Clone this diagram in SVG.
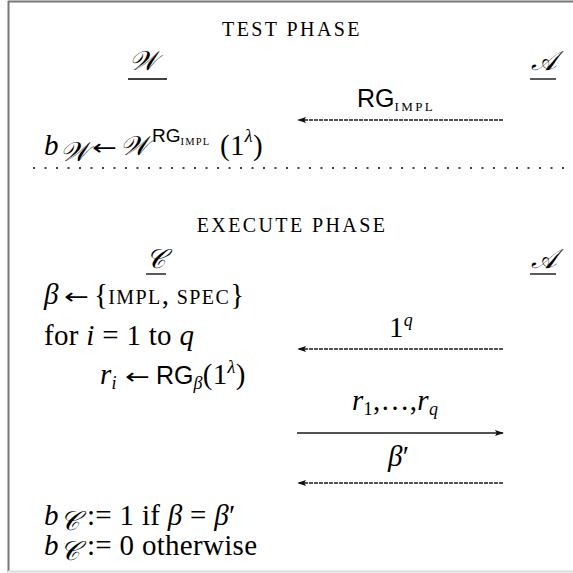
<svg xmlns="http://www.w3.org/2000/svg" width="573" height="573" viewBox="0 0 573 573">
<style>
.t{font-family:"Liberation Serif",serif;font-size:29px;letter-spacing:0.3px;fill:#000}
.i{font-style:italic}
.sc{font-family:"Liberation Serif",serif;font-size:20px;letter-spacing:2.4px;fill:#000}
.sf{font-family:"Liberation Sans",sans-serif;letter-spacing:0}
.ar{font-family:"DejaVu Sans",sans-serif;font-size:22px;fill:#000}
.cal{font-family:"DejaVu Serif","Noto Sans",serif;font-style:italic;font-size:27px;letter-spacing:0}
.ul{stroke:#000;stroke-width:1.3}
.dash{stroke:#1a1a1a;stroke-width:1.5;stroke-dasharray:4 1;fill:none}
.solid{stroke:#1a1a1a;stroke-width:1.4;fill:none}
</style>
<defs>
<marker id="ah" viewBox="0 0 10 10" refX="9" refY="5" markerWidth="9" markerHeight="9" markerUnits="userSpaceOnUse" orient="auto-start-reverse">
<path d="M0,1.5 L10,5 L0,8.5 L2,5 z" fill="#111"/>
</marker>
</defs>
<rect width="573" height="573" fill="#fff"/>
<g id="frame">
<line x1="8" y1="1.5" x2="573" y2="1.5" stroke="#777" stroke-width="2"/>
<line x1="8.5" y1="1" x2="8.5" y2="572" stroke="#777" stroke-width="2"/>
<line x1="8" y1="571.5" x2="573" y2="571.5" stroke="#ddd" stroke-width="2"/>
</g>
<g id="test-phase">
<text class="sc" x="292" y="36" text-anchor="middle">TEST PHASE</text>
</g>
<g id="W">
<text class="cal" x="129" y="70">𝒲</text>
<line class="ul" x1="128" y1="79" x2="167" y2="79"/>
</g>
<g id="A-test">
<text class="cal" x="531" y="70">𝒜</text>
<line class="ul" x1="530" y1="79" x2="556" y2="79"/>
</g>
<g id="label-rg">
<text class="t" x="357" y="107"><tspan class="sf" font-size="25">RG</tspan><tspan font-size="13" dy="4" letter-spacing="2.4">IMPL</tspan></text>
</g>
<g id="bW">
<text class="t" x="44" y="155"><tspan class="i">b</tspan><tspan class="cal" font-size="19" dy="6" x="60">𝒲</tspan></text>
<text class="ar" transform="translate(92,155) scale(1.35,1)">←</text>
<text class="t" x="120" y="155"><tspan class="cal">𝒲</tspan><tspan class="sf" font-size="19" dy="-13" x="152">RG</tspan><tspan font-size="10.5" dy="3" letter-spacing="1.2">IMPL</tspan><tspan dy="10" x="220">(1</tspan><tspan class="i" font-size="18" dy="-13">λ</tspan><tspan dy="13">)</tspan></text>
</g>
<line id="separator" x1="33" y1="168" x2="573" y2="168" stroke="#444" stroke-width="2" stroke-dasharray="2 9.5"/>
<g id="execute-phase">
<text class="sc" x="292" y="232" text-anchor="middle">EXECUTE PHASE</text>
</g>
<g id="C">
<text class="cal" x="146" y="268">𝒞</text>
<line class="ul" x1="146" y1="274" x2="166" y2="274"/>
</g>
<g id="A-exec">
<text class="cal" x="531" y="268">𝒜</text>
<line class="ul" x1="530" y1="274" x2="556" y2="274"/>
</g>
<g id="beta-line">
<text class="t" x="44" y="304"><tspan class="i">β</tspan></text>
<text class="ar" transform="translate(64,304) scale(1.35,1)">←</text>
<text class="t" x="94" y="304">{<tspan font-size="20" letter-spacing="1.4">IMPL</tspan>, <tspan font-size="20" letter-spacing="1.4">SPEC</tspan>}</text>
</g>
<g id="for-line">
<text class="t" x="44" y="345">for <tspan class="i">i</tspan> = 1 to <tspan class="i">q</tspan></text>
</g>
<g id="ri-line">
<text class="t" x="100" y="384"><tspan class="i">r</tspan><tspan class="i" font-size="18" dy="5">i</tspan></text>
<text class="ar" transform="translate(125,384) scale(1.35,1)">←</text>
<text class="t" x="156" y="384"><tspan class="sf" font-size="25">RG</tspan><tspan class="i" font-size="18" dy="5">β</tspan><tspan dy="-5">(1</tspan><tspan class="i" font-size="18" dy="-11">λ</tspan><tspan dy="11">)</tspan></text>
</g>
<g id="label-1q">
<text class="t" x="389" y="337">1<tspan class="i" font-size="18" dy="-11">q</tspan></text>
</g>
<g id="label-r">
<text class="t" x="352" y="410"><tspan class="i">r</tspan><tspan font-size="18" dy="5">1</tspan><tspan dy="-5">,…,</tspan><tspan class="i">r</tspan><tspan class="i" font-size="18" dy="5">q</tspan></text>
</g>
<g id="label-beta">
<text class="t" x="388" y="466"><tspan class="i">β</tspan>′</text>
</g>
<g id="bC">
<text class="t" x="44" y="525"><tspan class="i">b</tspan><tspan class="cal" font-size="13" dy="5" x="60">𝒞</tspan><tspan dy="-5" x="87">:= 1 if </tspan><tspan class="i">β</tspan> = <tspan class="i">β</tspan>′</text>
<text class="t" x="44" y="555"><tspan class="i">b</tspan><tspan class="cal" font-size="13" dy="5" x="60">𝒞</tspan><tspan dy="-5" x="87">:= 0 otherwise</tspan></text>
</g>
<g id="connectors">
<line class="dash" x1="503" y1="120" x2="298" y2="120" marker-end="url(#ah)"/>
<line class="dash" x1="503" y1="349" x2="298" y2="349" marker-end="url(#ah)"/>
<line class="solid" x1="297" y1="433" x2="503" y2="433" marker-end="url(#ah)"/>
<line class="dash" x1="503" y1="483" x2="298" y2="483" marker-end="url(#ah)"/>
</g>
</svg>
